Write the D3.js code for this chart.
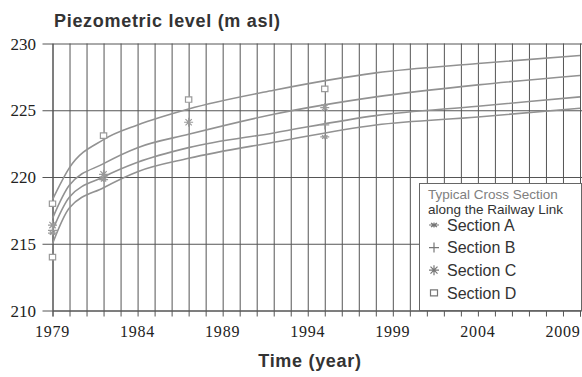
<!DOCTYPE html>
<html>
<head>
<meta charset="utf-8">
<script src="https://cdn.jsdelivr.net/npm/d3@7"></script>
<style>
  body { margin: 0; background: #fff; }
  svg { display: block; }
</style>
</head>
<body>
<svg id="chart" width="582" height="377"></svg>
<script>
// curve samples (year -> piezometric level, m asl)
const years   = [1979, 1980, 1982, 1984, 1987, 1992, 1998, 2004, 2010];
const sectionA = [215.0, 217.7, 219.2, 220.4, 221.4, 222.6, 223.9, 224.5, 225.15];
const sectionB = [216.0, 218.5, 220.0, 221.1, 222.2, 223.3, 224.6, 225.3, 226.0];
const sectionC = [216.9, 219.4, 221.0, 222.2, 223.2, 224.7, 226.0, 226.9, 227.6];
const sectionD = [218.3, 220.7, 222.8, 223.9, 225.1, 226.5, 227.8, 228.5, 229.1];

// measured points
const markA = [[1979, 215.8], [1982, 219.8], [1995, 223.0]];
const markB = [[1979, 216.0], [1982, 220.0], [1995, 223.9]];
const markC = [[1979, 216.4], [1982, 220.2], [1987, 224.1], [1995, 225.2]];
const markD = [[1979, 218.0], [1979, 214.0], [1982, 223.1], [1987, 225.8], [1995, 226.6]];

const xTicks = [1979, 1984, 1989, 1994, 1999, 2004, 2009];
const yTicks = [210, 215, 220, 225, 230];
const legendNames = ["Section A", "Section B", "Section C", "Section D"];

const svg = d3.select("#chart");
const x = d3.scaleLinear().domain([1979, 2010]).range([52.5, 580]);
const y = d3.scaleLinear().domain([210, 230]).range([310.5, 43.5]);

const gridColor = "#555";
const sans = "'Liberation Sans', Arial, sans-serif";

// vertical grid, one per year
svg.append("g")
  .attr("transform", "translate(0,310.5)")
  .call(d3.axisBottom(x).tickValues(d3.range(1979, 2011)).tickSize(-267).tickSizeOuter(0).tickFormat(""))
  .call(g => g.select(".domain").remove())
  .call(g => g.selectAll("line").attr("stroke", gridColor).attr("stroke-width", 1));

// small tick marks below axis
svg.append("g")
  .attr("transform", "translate(0,310.5)")
  .call(d3.axisBottom(x).tickValues(d3.range(1979, 2011)).tickSize(6).tickFormat(""))
  .call(g => g.select(".domain").attr("stroke", gridColor))
  .call(g => g.selectAll("line").attr("stroke", gridColor));

// horizontal grid
svg.append("g")
  .attr("transform", "translate(52.5,0)")
  .call(d3.axisLeft(y).tickValues(yTicks).tickSize(-530).tickSizeOuter(0).tickFormat(""))
  .call(g => g.select(".domain").attr("stroke", gridColor))
  .call(g => g.selectAll("line").attr("stroke", gridColor).attr("x1", -10));

// tick labels
svg.append("g").selectAll("text")
  .data(yTicks).join("text")
  .attr("x", 36).attr("y", d => y(d)).attr("dy", "0.36em")
  .attr("text-anchor", "end")
  .attr("font-family", "'Liberation Serif', serif").attr("font-size", 17)
  .attr("fill", "#222")
  .text(d => d);

svg.append("g").selectAll("text")
  .data(xTicks).join("text")
  .attr("x", d => x(d)).attr("y", 337)
  .attr("text-anchor", "middle")
  .attr("font-family", "'Liberation Serif', serif").attr("font-size", 16)
  .attr("letter-spacing", 0.8)
  .attr("fill", "#222")
  .text(d => d);

// titles
svg.append("text")
  .attr("x", 54).attr("y", 27)
  .attr("font-family", sans).attr("font-weight", "bold")
  .attr("font-size", 18).attr("letter-spacing", 0.7).attr("fill", "#333")
  .text("Piezometric level (m asl)");

svg.append("text")
  .attr("x", 310).attr("y", 367)
  .attr("text-anchor", "middle")
  .attr("font-family", sans).attr("font-weight", "bold")
  .attr("font-size", 18).attr("letter-spacing", 0.7).attr("fill", "#333")
  .text("Time (year)");

// curves
const line = d3.line()
  .x(d => x(d[0])).y(d => y(d[1]))
  .curve(d3.curveMonotoneX);

[sectionA, sectionB, sectionC, sectionD].forEach(vals => {
  svg.append("path")
    .datum(years.map((yr, i) => [yr, vals[i]]))
    .attr("d", line)
    .attr("fill", "none")
    .attr("stroke", "#929292")
    .attr("stroke-width", 1.6);
});

// marker shapes
function markerPath(kind, s) {
  if (kind === 0) return `M${-s},0H${s}M0,${-s * 0.5}V${s * 0.5}M${-s * 0.6},${-s * 0.4}L${s * 0.6},${s * 0.4}M${-s * 0.6},${s * 0.4}L${s * 0.6},${-s * 0.4}`;
  if (kind === 1) return `M${-s},0H${s}M0,${-s}V${s}`;
  if (kind === 2) return `M${-s},0H${s}M0,${-s}V${s}M${-s * 0.7},${-s * 0.7}L${s * 0.7},${s * 0.7}M${-s * 0.7},${s * 0.7}L${s * 0.7},${-s * 0.7}`;
  return `M${-s * 0.7},${-s * 0.6}H${s * 0.7}V${s * 0.6}H${-s * 0.7}Z`;
}

[markA, markB, markC, markD].forEach((pts, k) => {
  svg.append("g").selectAll("path")
    .data(pts).join("path")
    .attr("transform", d => `translate(${x(d[0])},${y(d[1])})`)
    .attr("d", markerPath(k, 4.5))
    .attr("fill", k === 3 ? "#fff" : "none")
    .attr("stroke", "#9a9a9a")
    .attr("stroke-width", 1.2);
});

// legend
const lg = svg.append("g");
lg.append("rect")
  .attr("x", 419.5).attr("y", 183.5).attr("width", 162).attr("height", 127)
  .attr("fill", "#fff").attr("stroke", "#666");
lg.append("text").attr("x", 428).attr("y", 194).attr("dy", "0.36em")
  .attr("font-family", sans).attr("font-size", 13.5)
  .attr("fill", "#808080").text("Typical Cross Section");
lg.append("text").attr("x", 428).attr("y", 209).attr("dy", "0.36em")
  .attr("font-family", sans).attr("font-size", 13.5)
  .attr("fill", "#333").text("along the Railway Link");
legendNames.forEach((name, i) => {
  const cy = 225 + i * 22.6;
  lg.append("path")
    .attr("transform", `translate(434,${cy})`)
    .attr("d", markerPath(i, 5))
    .attr("fill", i === 3 ? "#fff" : "none")
    .attr("stroke", "#777").attr("stroke-width", 1.2);
  lg.append("text").attr("x", 447).attr("y", cy).attr("dy", "0.36em")
    .attr("font-family", sans).attr("font-size", 16)
    .attr("fill", "#333").text(name);
});
</script>
</body>
</html>
